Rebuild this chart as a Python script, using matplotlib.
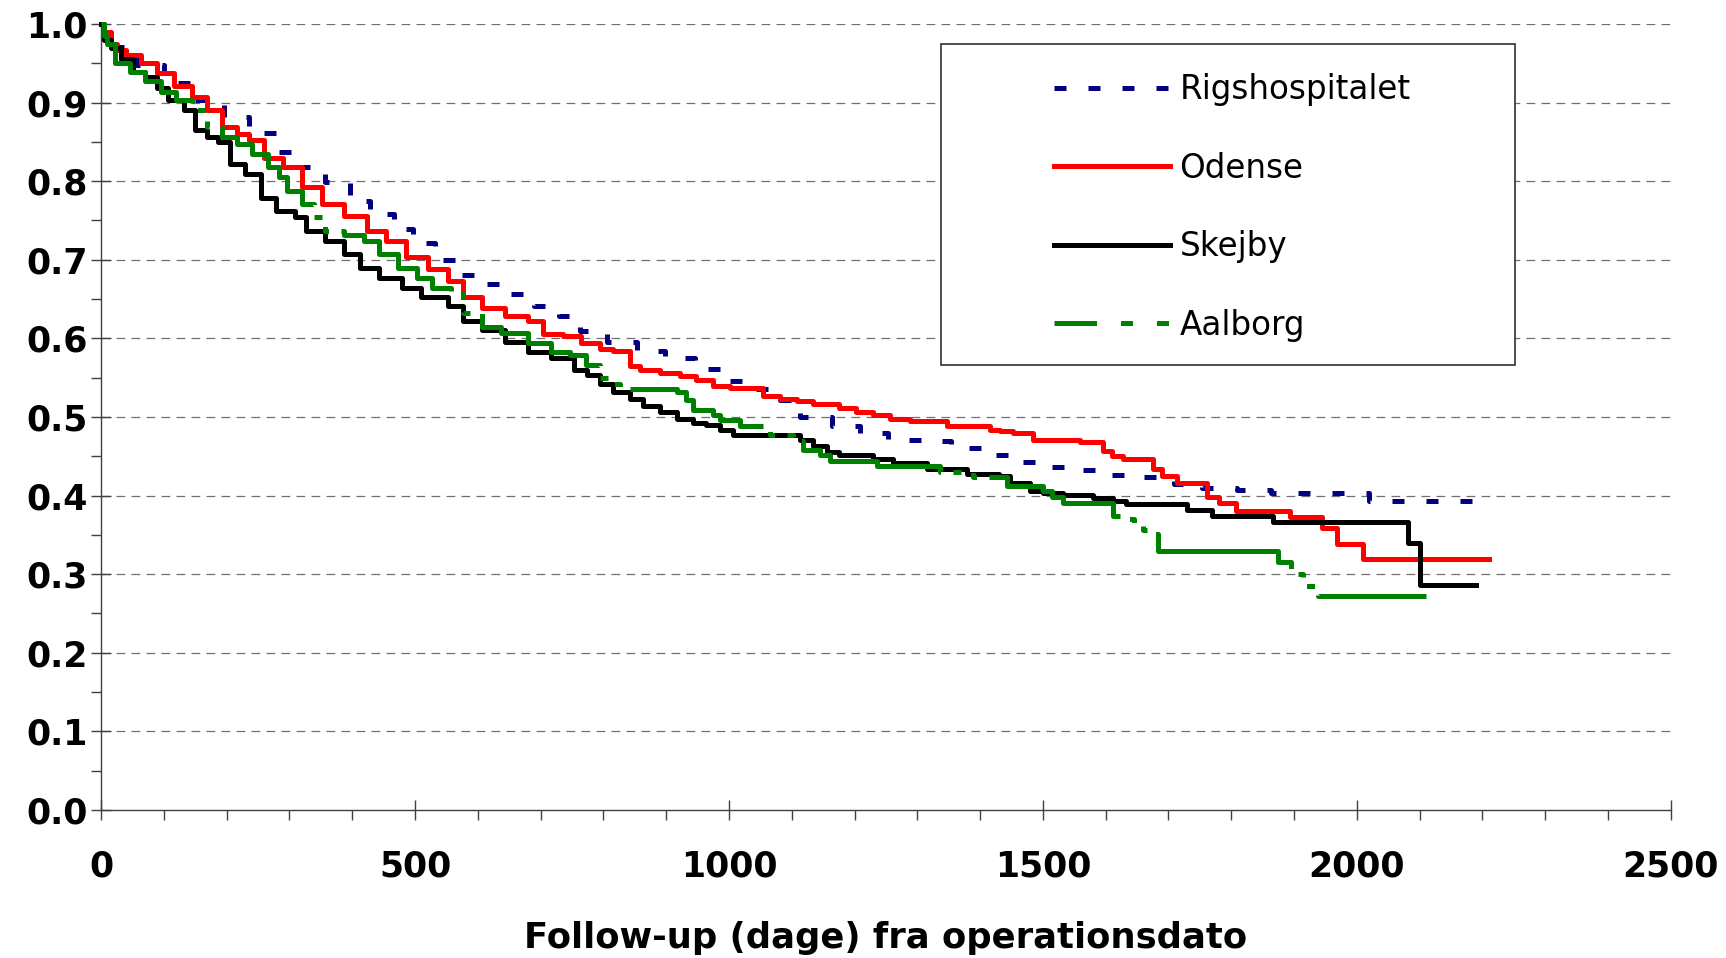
import matplotlib
matplotlib.use("Agg")
import matplotlib.pyplot as plt
from matplotlib.patches import Rectangle
from matplotlib.lines import Line2D
from matplotlib.ticker import MultipleLocator, FormatStrFormatter

# ---------------- data ----------------
series_names = ["Rigshospitalet", "Odense", "Skejby", "Aalborg"]

rigs_t = [0, 5, 22, 55, 100, 147, 196, 235, 278, 317, 357, 397, 429, 466, 497, 532,
          567, 613, 653, 689, 729, 763, 805, 853, 898, 946, 988, 1038, 1081, 1113,
          1164, 1208, 1253, 1309, 1354, 1404, 1449, 1500, 1550, 1602, 1654, 1709,
          1753, 1809, 1864, 2019, 2202]
rigs_s = [1.0, 0.985, 0.971, 0.948, 0.925, 0.903, 0.882, 0.861, 0.837, 0.818, 0.799,
          0.775, 0.758, 0.739, 0.721, 0.700, 0.681, 0.669, 0.656, 0.641, 0.628, 0.609,
          0.596, 0.584, 0.575, 0.561, 0.546, 0.536, 0.521, 0.500, 0.489, 0.480, 0.471,
          0.469, 0.461, 0.451, 0.443, 0.436, 0.432, 0.426, 0.423, 0.4145, 0.409, 0.407,
          0.403, 0.393, 0.393]

odense_t = [0, 5, 15, 25, 39, 64, 89, 116, 144, 168, 192, 217, 235, 260, 290, 320, 351,
            387, 424, 454, 485, 521, 552, 576, 607, 643, 680, 704, 735, 765, 794, 816,
            842, 858, 890, 922, 948, 975, 1001, 1054, 1081, 1108, 1134, 1176, 1203,
            1229, 1256, 1288, 1347, 1415, 1431, 1452, 1484, 1559, 1595, 1610, 1627,
            1675, 1690, 1713, 1761, 1781, 1808, 1893, 1945, 1968, 2010, 2211]
odense_s = [1.0, 0.99, 0.975, 0.967, 0.960, 0.950, 0.937, 0.921, 0.907, 0.890, 0.869,
            0.860, 0.852, 0.830, 0.818, 0.792, 0.771, 0.756, 0.737, 0.724, 0.703, 0.688,
            0.673, 0.652, 0.639, 0.628, 0.622, 0.605, 0.603, 0.594, 0.586, 0.584, 0.565,
            0.560, 0.556, 0.552, 0.547, 0.540, 0.537, 0.527, 0.523, 0.520, 0.517, 0.511,
            0.506, 0.502, 0.498, 0.495, 0.489, 0.484, 0.482, 0.479, 0.471, 0.468, 0.457,
            0.450, 0.446, 0.434, 0.425, 0.416, 0.398, 0.391, 0.380, 0.373, 0.359, 0.338,
            0.319, 0.319]

skejby_t = [0, 5, 15, 32, 51, 70, 89, 107, 132, 150, 168, 186, 205, 229, 254, 278, 308,
            327, 357, 387, 412, 442, 479, 509, 552, 576, 607, 643, 680, 716, 753, 774,
            794, 815, 842, 863, 890, 917, 943, 964, 985, 1006, 1100, 1113, 1134, 1156,
            1176, 1229, 1261, 1315, 1379, 1430, 1447, 1479, 1500, 1532, 1580, 1612, 1633,
            1729, 1770, 1866, 2081, 2089, 2100, 2189]
skejby_s = [1.0, 0.98, 0.97, 0.956, 0.939, 0.933, 0.918, 0.903, 0.890, 0.865, 0.856,
            0.850, 0.822, 0.809, 0.779, 0.762, 0.754, 0.737, 0.724, 0.707, 0.690, 0.677,
            0.664, 0.652, 0.641, 0.622, 0.611, 0.596, 0.583, 0.575, 0.560, 0.554, 0.542,
            0.532, 0.523, 0.514, 0.506, 0.498, 0.492, 0.490, 0.484, 0.477, 0.477, 0.471,
            0.463, 0.455, 0.452, 0.446, 0.442, 0.434, 0.427, 0.4245, 0.416, 0.406, 0.403,
            0.401, 0.397, 0.393, 0.389, 0.382, 0.374, 0.367, 0.340, 0.340, 0.286, 0.286]

aalborg_t = [0, 5, 10, 22, 46, 70, 95, 119, 144, 168, 192, 217, 241, 266, 284, 296, 320,
             339, 357, 387, 418, 442, 473, 503, 527, 558, 576, 607, 637, 680, 716, 747,
             772, 794, 810, 826, 917, 932, 943, 975, 985, 1017, 1065, 1102, 1118, 1145,
             1161, 1235, 1336, 1389, 1442, 1500, 1515, 1532, 1612, 1631, 1645, 1660, 1675,
             1683, 1856, 1875, 1895, 1915, 1938, 2110]
aalborg_s = [1.0, 0.985, 0.975, 0.950, 0.939, 0.928, 0.914, 0.903, 0.890, 0.869, 0.856,
             0.847, 0.835, 0.818, 0.805, 0.788, 0.771, 0.754, 0.737, 0.732, 0.724, 0.707,
             0.690, 0.677, 0.664, 0.656, 0.632, 0.615, 0.607, 0.594, 0.583, 0.579, 0.566,
             0.550, 0.542, 0.536, 0.532, 0.521, 0.509, 0.502, 0.496, 0.489, 0.477, 0.469,
             0.458, 0.452, 0.444, 0.437, 0.430, 0.423, 0.412, 0.406, 0.398, 0.390, 0.374,
             0.370, 0.362, 0.356, 0.351, 0.329, 0.329, 0.315, 0.300, 0.285, 0.272, 0.272]

x_label = "Follow-up (dage) fra operationsdato"

# ---------------- figure ----------------
fig = plt.figure(figsize=(17.26, 9.58), dpi=100)
ax = fig.add_axes([0.0586, 0.1545, 0.9094, 0.8205])

LW = 3.6
colors = ["#000080", "#FF0000", "#000000", "#008000"]
plot_styles = [(0, (2.4, 4.4)), "-", "-", (0, (34, 2.5, 1.6, 2.5, 1.6, 2.5))]
legend_styles = [(0, (2.4, 4.4)), "-", "-", (0, (8.5, 4.8, 2.4, 4.8, 2.4, 4.8))]
data = [(rigs_t, rigs_s), (odense_t, odense_s), (skejby_t, skejby_s), (aalborg_t, aalborg_s)]

for (t, s), c, ls in zip(data, colors, plot_styles):
    ax.plot(t, s, drawstyle="steps-post", lw=LW, color=c, linestyle=ls,
            clip_on=False, zorder=3)

ax.set_xlim(0, 2500)
ax.set_ylim(0, 1.0)

# grid
for yv in [i / 10 for i in range(1, 11)]:
    ax.axhline(yv, color="#707070", lw=0.9, linestyle=(0, (7, 5)), zorder=1)

# spines
for side in ["top", "right"]:
    ax.spines[side].set_visible(False)
for side in ["left", "bottom"]:
    ax.spines[side].set_color("#404040")
    ax.spines[side].set_linewidth(1.0)

ax.xaxis.set_major_locator(MultipleLocator(500))
ax.xaxis.set_minor_locator(MultipleLocator(100))
ax.yaxis.set_major_locator(MultipleLocator(0.1))
ax.yaxis.set_minor_locator(MultipleLocator(0.05))
ax.yaxis.set_major_formatter(FormatStrFormatter("%.1f"))

ax.tick_params(axis="both", which="major", direction="inout", length=15, width=1.0,
               color="#404040", labelsize=25)
ax.tick_params(axis="both", which="minor", direction="out", length=7, width=1.0,
               color="#404040")
ax.tick_params(axis="y", which="major", pad=2)
ax.tick_params(axis="x", which="major", pad=21)
for lbl in ax.get_xticklabels() + ax.get_yticklabels():
    lbl.set_fontweight("bold")

ax.set_xlabel(x_label, fontsize=25.5, fontweight="bold", labelpad=27)

# legend frame + legend
ax.add_patch(Rectangle((0.535, 0.566), 0.3656, 0.4086, transform=ax.transAxes,
                       facecolor="white", edgecolor="#303030", lw=1.2, zorder=4))
handles = [Line2D([], [], color=c, lw=LW, linestyle=ls)
           for c, ls in zip(colors, legend_styles)]
leg = ax.legend(handles, series_names, loc="upper left", bbox_to_anchor=(0.607, 0.937),
                frameon=False, fontsize=23.5, handlelength=3.55, handletextpad=0.3,
                labelspacing=1.39, borderpad=0, borderaxespad=0)
leg.set_zorder(5)

fig.savefig("out.png", dpi=100, facecolor="white")
